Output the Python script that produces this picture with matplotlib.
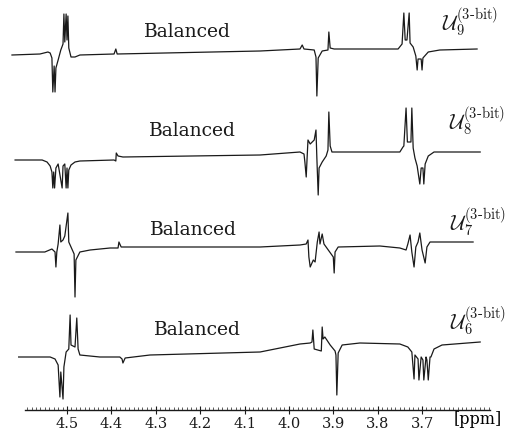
import numpy as np
import matplotlib.pyplot as plt
from matplotlib.ticker import FixedLocator

plt.rcParams['mathtext.fontset'] = 'cm'

# Spectra: (ppm, intensity) vertices, intensity in px above each trace's baseline
u9_ppm = [4.624, 4.561, 4.543, 4.538, 4.534, 4.532, 4.529, 4.527, 4.525, 4.520, 4.514, 4.509,
          4.507, 4.505, 4.502, 4.500, 4.498, 4.496, 4.491, 4.482, 4.471, 4.394, 4.390, 4.387,
          4.065, 3.975, 3.970, 3.966, 3.943, 3.939, 3.937, 3.934, 3.925, 3.912, 3.910, 3.907,
          3.898, 3.754, 3.745, 3.741, 3.738, 3.734, 3.729, 3.727, 3.720, 3.714, 3.711, 3.709,
          3.702, 3.700, 3.698, 3.686, 3.660, 3.576]
u9_int = [-1, 0, 2, 1, -4, -38, -12, -38, -14, -6, 4, 10,
          40, 12, 40, 14, 38, 6, -3, -3, -1, 0, 5, 0,
          3, 5, 9, 5, 4, -3, -42, -4, 3, 4, 22, 6,
          5, 5, 10, 41, 14, 14, 41, 11, 7, -2, -16, -5,
          -5, -16, -4, 2, 4, 5]

u8_ppm = [4.617, 4.556, 4.545, 4.538, 4.534, 4.532, 4.530, 4.528, 4.525, 4.520, 4.511, 4.509,
          4.505, 4.502, 4.500, 4.498, 4.496, 4.491, 4.482, 4.471, 4.394, 4.390, 4.389, 4.385,
          4.374, 4.065, 3.975, 3.966, 3.964, 3.961, 3.959, 3.957, 3.952, 3.943, 3.939, 3.937,
          3.934, 3.932, 3.925, 3.916, 3.912, 3.910, 3.907, 3.903, 3.892, 3.750, 3.743, 3.741,
          3.736, 3.733, 3.725, 3.723, 3.720, 3.716, 3.711, 3.705, 3.702, 3.698, 3.696, 3.693,
          3.686, 3.673, 3.569]
u8_int = [0, 0, -2, -6, -12, -28, -12, -28, -8, -4, -28, -6,
          -4, -28, -8, -28, -10, -5, -2, -1, 0, -1, 7, 4,
          3, 5, 8, 6, -2, -17, 2, 20, 16, 20, 30, 2,
          -35, -8, -2, 4, 10, 48, 14, 8, 8, 8, 13, 14,
          52, 18, 18, 52, 12, 2, -6, -24, -8, -8, -24, -4,
          4, 8, 8]

u7_ppm = [4.615, 4.550, 4.534, 4.527, 4.525, 4.523, 4.520, 4.516, 4.514, 4.509, 4.505, 4.498,
          4.496, 4.491, 4.484, 4.482, 4.480, 4.471, 4.448, 4.403, 4.385, 4.383, 4.378, 4.336,
          4.065, 3.975, 3.961, 3.957, 3.955, 3.952, 3.945, 3.941, 3.936, 3.932, 3.930, 3.925,
          3.921, 3.900, 3.898, 3.896, 3.889, 3.795, 3.750, 3.736, 3.732, 3.727, 3.723, 3.718,
          3.714, 3.709, 3.705, 3.700, 3.693, 3.689, 3.682, 3.585]
u7_int = [0, 0, 3, 0, -15, 0, 8, 27, 10, 12, 16, 39,
          10, 5, -2, -45, -8, 0, 2, 4, 4, 10, 5, 5,
          5, 7, 8, 12, -5, -15, -8, -10, 10, 20, 8, 18,
          8, -5, -21, 0, 5, 6, 4, 2, 8, 17, 0, -15,
          5, 10, 19, 2, -11, 5, 10, 10]

u6_ppm = [4.609, 4.538, 4.527, 4.520, 4.516, 4.514, 4.509, 4.507, 4.502, 4.496, 4.493, 4.491,
          4.482, 4.478, 4.475, 4.471, 4.426, 4.381, 4.376, 4.374, 4.369, 4.313, 4.065, 3.975,
          3.952, 3.948, 3.946, 3.943, 3.927, 3.925, 3.923, 3.919, 3.907, 3.896, 3.894, 3.892,
          3.889, 3.880, 3.840, 3.750, 3.732, 3.723, 3.718, 3.716, 3.709, 3.707, 3.702, 3.698,
          3.696, 3.691, 3.689, 3.686, 3.682, 3.680, 3.673, 3.655, 3.569]
u6_int = [0, 0, -2, -8, -40, -15, -42, -10, 5, 8, 42, 12,
          10, 39, 8, 2, 0, 0, -2, -6, -1, 2, 5, 13,
          14, 15, 27, 8, 6, 30, 18, 20, 12, 6, 2, -38,
          4, 12, 14, 13, 10, 5, -22, 2, -2, -23, 0, -3,
          -23, 0, -3, -23, 0, 0, 8, 12, 15]

traces = [(u9_ppm, u9_int), (u8_ppm, u8_int), (u7_ppm, u7_int), (u6_ppm, u6_int)]
baselines = [54, 160, 252, 357]
labels = [r'$\mathcal{U}_{9}^{(3\text{-bit})}$', r'$\mathcal{U}_{8}^{(3\text{-bit})}$',
          r'$\mathcal{U}_{7}^{(3\text{-bit})}$', r'$\mathcal{U}_{6}^{(3\text{-bit})}$']
label_pos = [(3.655, 22), (3.640, 121), (3.637, 222), (3.637, 321)]
balanced_pos = [(4.229, 32), (4.218, 131), (4.216, 230), (4.207, 330)]

major_ticks = [4.5, 4.4, 4.3, 4.2, 4.1, 4.0, 3.9, 3.8, 3.7]
scale_start, scale_end = 4.595, 3.547

fig = plt.figure(figsize=(5.25, 4.34), dpi=100)
ax = fig.add_axes([0, 0, 1, 1])
ax.set_xlim(4.651, 3.468)
ax.set_ylim(434, 0)

for (ppm, inten), base in zip(traces, baselines):
    ax.plot(ppm, base - np.array(inten), color='#1a1a1a', linewidth=0.9)

for (x, y), lab in zip(label_pos, labels):
    ax.text(x, y, lab, fontsize=15, ha='left', va='center', color='#1a1a1a')

for x, y in balanced_pos:
    ax.text(x, y, 'Balanced', fontsize=13.5, family='DejaVu Serif', ha='center', va='center',
            color='#1a1a1a')

# ppm scale along the bottom
for side in ['left', 'right', 'top']:
    ax.spines[side].set_visible(False)
ax.spines['bottom'].set_position(('data', 410))
ax.spines['bottom'].set_bounds(scale_start, scale_end)
ax.spines['bottom'].set_linewidth(1.0)
ax.spines['bottom'].set_color('#1a1a1a')
ax.yaxis.set_visible(False)
ax.xaxis.set_major_locator(FixedLocator(major_ticks))
ax.xaxis.set_minor_locator(FixedLocator(np.arange(3.55, 4.595, 0.01)))
ax.set_xticklabels([f'{t:.1f}' for t in major_ticks])
ax.tick_params(axis='x', which='major', direction='inout', length=6, width=0.8, pad=2,
               labelsize=10.5, labelfontfamily='DejaVu Serif', colors='#1a1a1a')
ax.tick_params(axis='x', which='minor', direction='in', length=2, width=0.5, colors='#1a1a1a')
ax.text(3.575, 420, '[ppm]', fontsize=11.5, family='DejaVu Serif', ha='center', va='center')

fig.savefig('out.png', dpi=100)
